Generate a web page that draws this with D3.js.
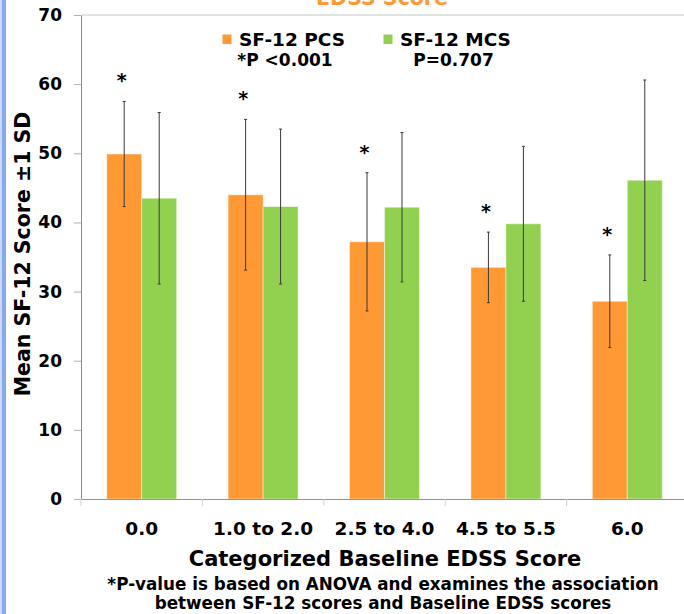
<!DOCTYPE html>
<html>
<head>
<meta charset="utf-8">
<script src="https://cdn.jsdelivr.net/npm/d3@7"></script>
<style>
  html, body { margin: 0; padding: 0; background: #fff; }
  svg { display: block; font-family: "DejaVu Sans", Verdana, sans-serif; font-weight: bold; }
</style>
</head>
<body>
<div id="my_dataviz"></div>
<script>
// Mean SF-12 scores (+/- 1 SD) by baseline EDSS category
var categories = ["0.0", "1.0 to 2.0", "2.5 to 4.0", "4.5 to 5.5", "6.0"];
var seriesNames = ["SF-12 PCS", "SF-12 MCS"];
var pcsMean = [49.9, 44.0, 37.2, 33.5, 28.6];
var pcsSD = [7.6, 10.9, 10.0, 5.1, 6.7];
var mcsMean = [43.5, 42.3, 42.2, 39.8, 46.1];
var mcsSD = [12.4, 11.2, 10.8, 11.2, 14.5];
var pValues = ["*P <0.001", "P=0.707"];
var yTicks = [0, 10, 20, 30, 40, 50, 60, 70];

var colors = ["#FF9933", "#92D050"];

var W = 684, H = 614;
var margin = { top: 15, left: 81, bottom: 115 };
var plotRight = 688; // plot runs a little past the visible edge

var svg = d3.select("#my_dataviz")
  .append("svg")
  .attr("width", W)
  .attr("height", H);

// slide border strip on the left
svg.append("rect").attr("x", 0).attr("y", 0).attr("width", 6).attr("height", H).attr("fill", "#86A9F0");
svg.append("rect").attr("x", 0).attr("y", 0).attr("width", 2).attr("height", H).attr("fill", "#C9D9F8");

// scales
var x = d3.scaleBand()
  .domain(categories)
  .range([margin.left, plotRight])
  .padding(0);

var xSub = d3.scaleBand()
  .domain(seriesNames)
  .range([0, x.bandwidth()])
  .paddingInner(0)
  .paddingOuter(0.735);

var y = d3.scaleLinear()
  .domain([0, 70])
  .range([H - margin.bottom, margin.top]);

// build rows for the bars
var rows = [];
categories.forEach(function(c, i) {
  rows.push({ cat: c, series: seriesNames[0], mean: pcsMean[i], sd: pcsSD[i], color: colors[0] });
  rows.push({ cat: c, series: seriesNames[1], mean: mcsMean[i], sd: mcsSD[i], color: colors[1] });
});

// title line, cut off by the top edge as in the original slide
svg.append("text")
  .attr("x", 382)
  .attr("y", 5)
  .attr("text-anchor", "middle")
  .attr("fill", "#FF9933")
  .style("font-size", "20.5px")
  .text("EDSS Score");

// top border of plot area
svg.append("line")
  .attr("x1", margin.left).attr("x2", plotRight)
  .attr("y1", y(70)).attr("y2", y(70))
  .attr("stroke", "#BFC8C5")
  .attr("stroke-width", 1.2);

// bars
svg.selectAll(".bar")
  .data(rows)
  .enter()
  .append("rect")
    .attr("class", "bar")
    .attr("x", function(d) { return x(d.cat) + xSub(d.series); })
    .attr("y", function(d) { return y(d.mean); })
    .attr("width", xSub.bandwidth())
    .attr("height", function(d) { return y(0) - y(d.mean); })
    .attr("fill", function(d) { return d.color; })
    .attr("stroke", "rgba(255,255,255,0.45)")
    .attr("stroke-width", 1);

// error bars
var err = svg.selectAll(".err")
  .data(rows)
  .enter()
  .append("g")
    .attr("class", "err")
    .attr("stroke", "#3a3a3a")
    .attr("stroke-width", 1);

function cx(d) { return x(d.cat) + xSub(d.series) + xSub.bandwidth() / 2; }

err.append("line")
  .attr("x1", cx).attr("x2", cx)
  .attr("y1", function(d) { return y(d.mean + d.sd); })
  .attr("y2", function(d) { return y(d.mean - d.sd); });
err.append("line")
  .attr("x1", function(d) { return cx(d) - 1.5; }).attr("x2", function(d) { return cx(d) + 1.5; })
  .attr("y1", function(d) { return y(d.mean + d.sd); })
  .attr("y2", function(d) { return y(d.mean + d.sd); });
err.append("line")
  .attr("x1", function(d) { return cx(d) - 1.5; }).attr("x2", function(d) { return cx(d) + 1.5; })
  .attr("y1", function(d) { return y(d.mean - d.sd); })
  .attr("y2", function(d) { return y(d.mean - d.sd); });

// significance stars above PCS bars
svg.selectAll(".star")
  .data(rows.filter(function(d) { return d.series === seriesNames[0]; }))
  .enter()
  .append("text")
    .attr("class", "star")
    .attr("x", function(d) { return cx(d) - 2.5; })
    .attr("y", function(d) { return y(d.mean + d.sd) - 14; })
    .attr("text-anchor", "middle")
    .style("font-size", "19px")
    .text("*");

// y axis
var yAxis = svg.append("g")
  .attr("transform", "translate(" + margin.left + ",0)")
  .call(d3.axisLeft(y).tickValues(yTicks).tickSize(7).tickSizeOuter(0).tickPadding(12));
yAxis.select(".domain").attr("stroke", "#8C8C8C");
yAxis.selectAll(".tick line").attr("stroke", "#B0B0B0");
yAxis.selectAll("text")
  .style("font-size", "17px")
  .style("font-family", "DejaVu Sans")
  .style("font-weight", "bold")
  .attr("fill", "#000");

// x axis
var xAxis = svg.append("g")
  .attr("transform", "translate(0," + y(0) + ")")
  .call(d3.axisBottom(x).tickSize(0).tickSizeOuter(0).tickPadding(23));
xAxis.select(".domain").attr("stroke", "#8497B0").attr("stroke-width", 1.2);
xAxis.selectAll("text")
  .style("font-size", "18.5px")
  .style("font-family", "DejaVu Sans")
  .style("font-weight", "bold")
  .attr("fill", "#000");

// category divider ticks
svg.selectAll(".xtick")
  .data(categories)
  .enter()
  .append("line")
    .attr("class", "xtick")
    .attr("x1", function(d) { return x(d); })
    .attr("x2", function(d) { return x(d); })
    .attr("y1", y(0))
    .attr("y2", y(0) + 7)
    .attr("stroke", "#D0D0D0");

// axis titles
svg.append("text")
  .attr("transform", "translate(30,254) rotate(-90)")
  .attr("text-anchor", "middle")
  .style("font-size", "20.5px")
  .text("Mean SF-12 Score \u00b11 SD");

svg.append("text")
  .attr("x", 385)
  .attr("y", 566)
  .attr("text-anchor", "middle")
  .style("font-size", "21px")
  .text("Categorized Baseline EDSS Score");

// footnote
var foot = svg.append("text")
  .attr("text-anchor", "middle")
  .style("font-size", "16.8px");
foot.append("tspan").attr("x", 383).attr("y", 590)
  .text("*P-value is based on ANOVA and examines the association");
foot.append("tspan").attr("x", 383).attr("y", 608.5)
  .text("between SF-12 scores and Baseline EDSS scores");

// legend
var legendX = [222.5, 383.5];
var pX = [285, 453.5];
var legend = svg.selectAll(".legend")
  .data(seriesNames)
  .enter()
  .append("g")
    .attr("class", "legend");

legend.append("rect")
  .attr("x", function(d, i) { return legendX[i]; })
  .attr("y", 34.5)
  .attr("width", 9)
  .attr("height", 9.5)
  .attr("fill", function(d, i) { return colors[i]; });

legend.append("text")
  .attr("x", function(d, i) { return legendX[i] + 16.5; })
  .attr("y", 46)
  .style("font-size", "18.5px")
  .text(function(d) { return d; });

legend.append("text")
  .attr("x", function(d, i) { return pX[i]; })
  .attr("y", 66)
  .attr("text-anchor", "middle")
  .style("font-size", "17px")
  .text(function(d, i) { return pValues[i]; });
</script>
</body>
</html>
